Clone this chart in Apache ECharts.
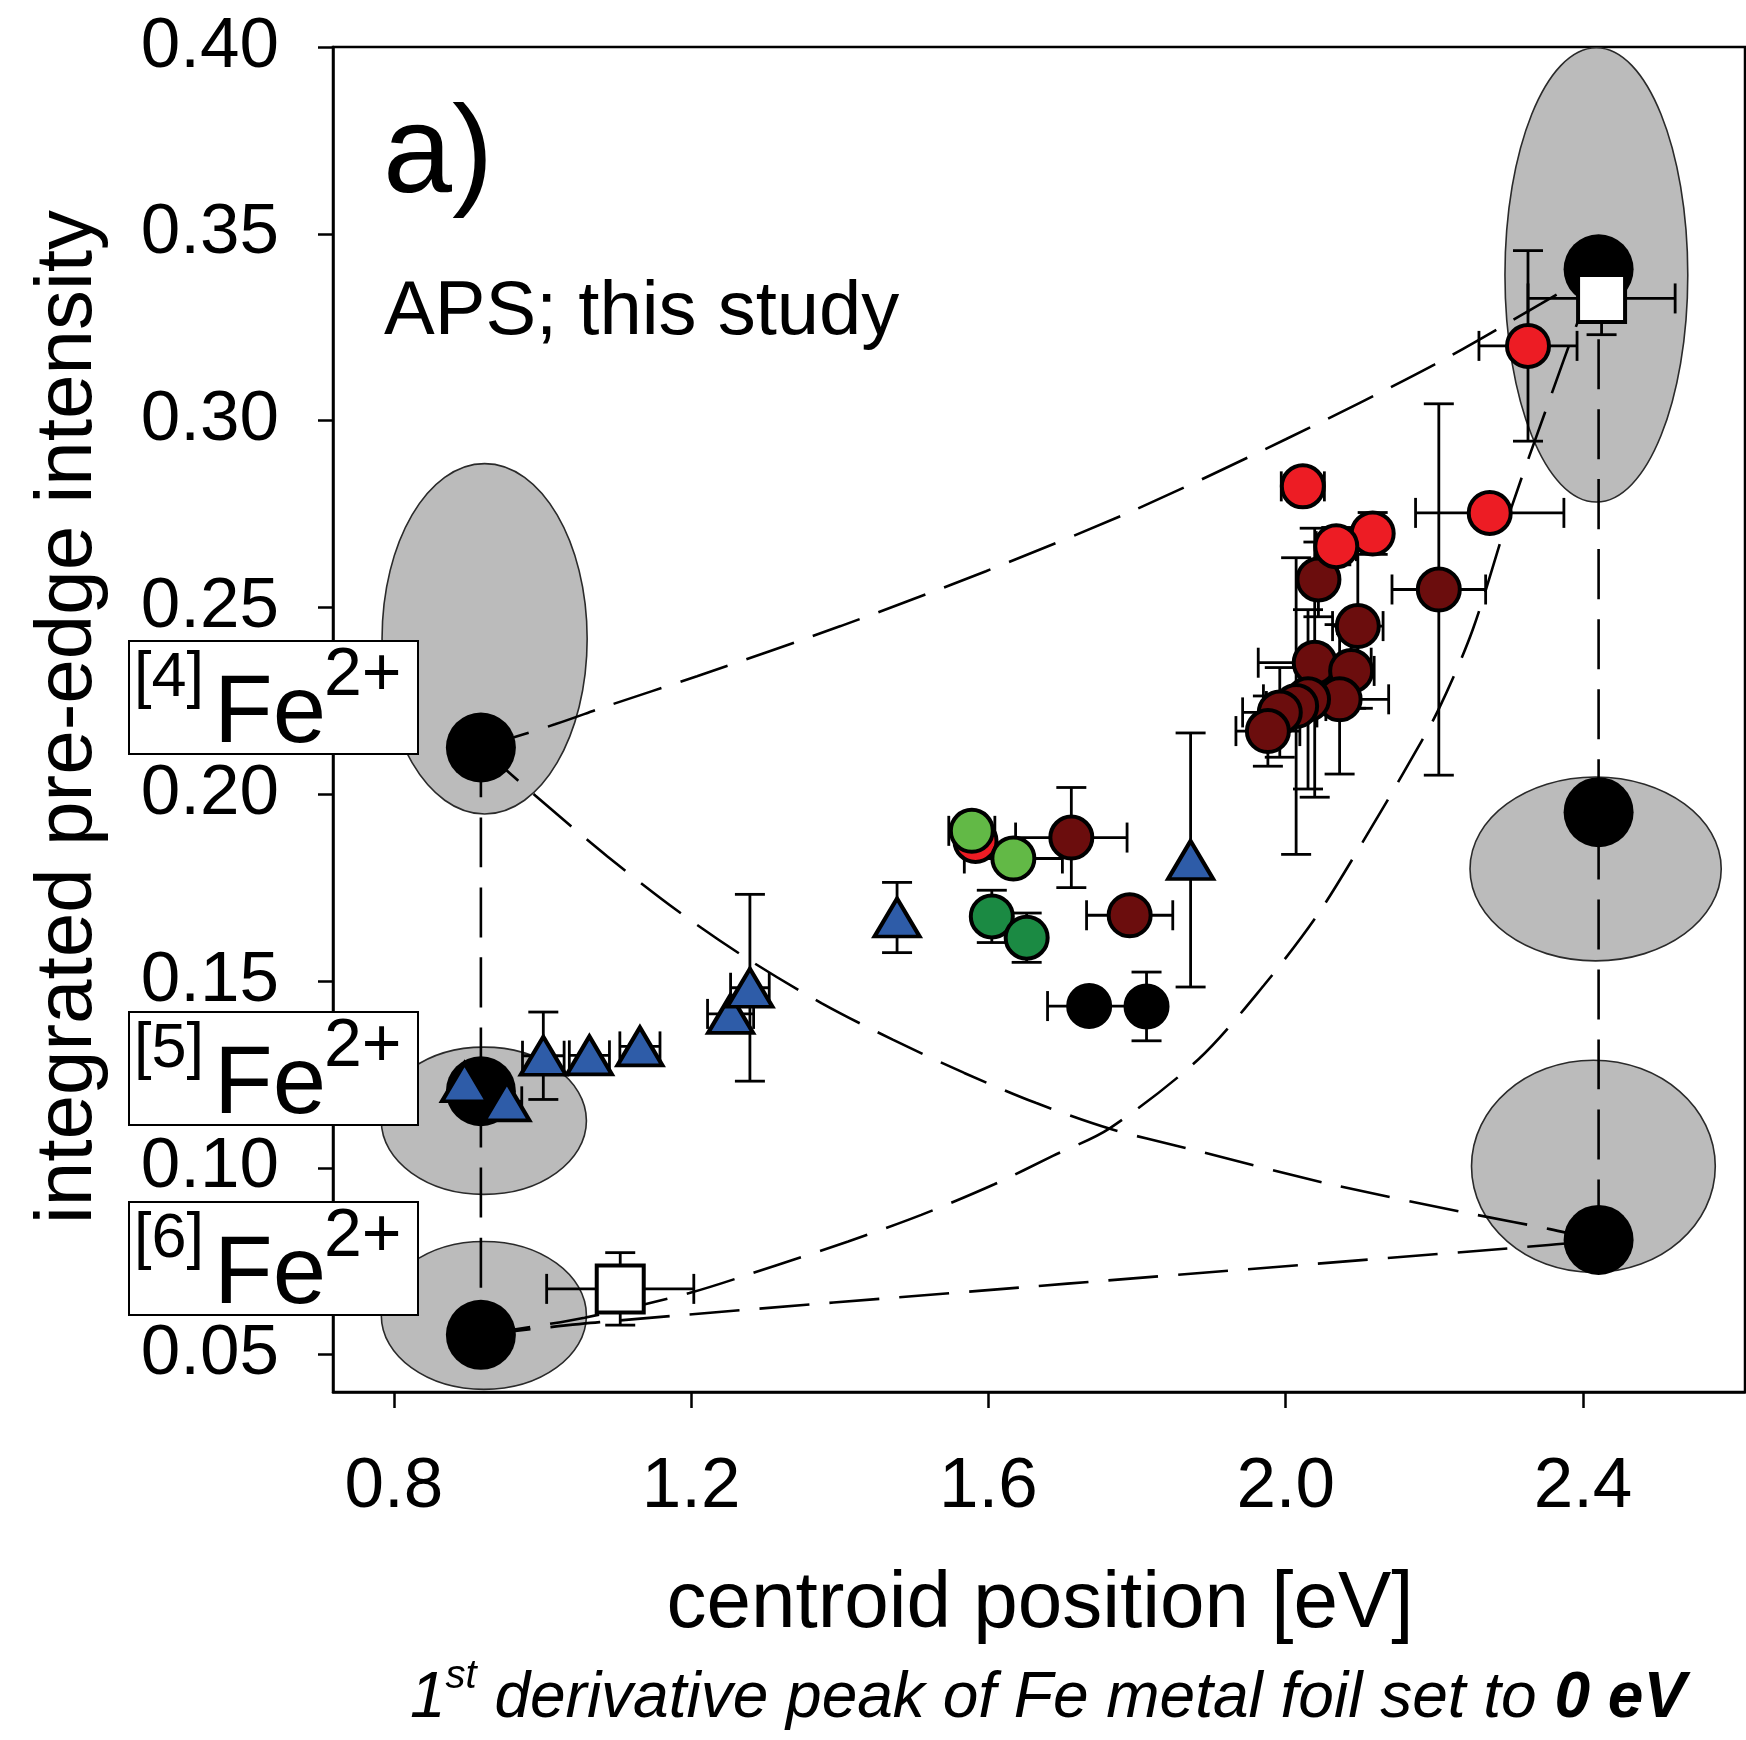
<!DOCTYPE html>
<html>
<head>
<meta charset="utf-8">
<script src="https://cdn.jsdelivr.net/npm/echarts@6/dist/echarts.min.js"></script>
<style>html,body{margin:0;padding:0;background:#fff}#c{width:1746px;height:1740px}</style>
</head>
<body>
<div id="c"></div>
<script>
// ---------- data ----------
const xTicks = [0.8, 1.2, 1.6, 2.0, 2.4];
const yTicks = [0.05, 0.10, 0.15, 0.20, 0.25, 0.30, 0.35, 0.40];

// end-member reference points [x, y]
const refPoints = [[0.917, 0.2125], [0.917, 0.1205], [0.917, 0.0553], [2.421, 0.3405], [2.421, 0.1952], [2.421, 0.0807]];
// grey fields [cx, cy, rx, ry]
const ellipses = [
  [0.922, 0.2416, 0.138, 0.0469],
  [0.921, 0.1126, 0.138, 0.0197],
  [0.921, 0.0605, 0.138, 0.0198],
  [2.418, 0.3390, 0.123, 0.0608],
  [2.417, 0.1800, 0.169, 0.0246],
  [2.414, 0.1004, 0.164, 0.0284]
];
// dashed mixing curves [x, y]
const curve4to4 = [[0.917, 0.2125], [1.0166, 0.2187], [1.0869, 0.2236], [1.2078, 0.2316], [1.401, 0.2450], [1.5966, 0.2597], [1.7923, 0.2757], [2.0, 0.2950], [2.2, 0.3150], [2.3437, 0.3313], [2.421, 0.3405]];
const curve6to4 = [[0.917, 0.0553], [1.0565, 0.0599], [1.1976, 0.0665], [1.3129, 0.0738], [1.4112, 0.0803], [1.5096, 0.0874], [1.6079, 0.0956], [1.6866, 0.1032], [1.7625, 0.1105], [1.8833, 0.1292], [1.9704, 0.1488], [2.042, 0.1675], [2.1033, 0.1871], [2.1597, 0.2062], [2.2057, 0.2227], [2.2517, 0.2441], [2.3012, 0.2753], [2.3550, 0.3056], [2.3925, 0.3262], [2.421, 0.3405]];
const curve4to6 = [[0.917, 0.2125], [0.9905, 0.1996], [1.0869, 0.1834], [1.1829, 0.1686], [1.2760, 0.1559], [1.3752, 0.1441], [1.4712, 0.1343], [1.5674, 0.1254], [1.6635, 0.1174], [1.7625, 0.1105], [1.8637, 0.1054], [2.0604, 0.0956], [2.2571, 0.0874], [2.3554, 0.0836], [2.421, 0.0807]];
const curve6to6 = [[0.917, 0.0553], [1.0768, 0.0587], [1.7063, 0.0690], [2.3457, 0.0792], [2.421, 0.0807]];
const vLineLeft = [[0.917, 0.2125], [0.917, 0.0553]];
const vLineRight = [[2.421, 0.3405], [2.421, 0.0807]];

// samples [x, y, xErr, yErr]
const redPts = [[2.326, 0.3200, 0.066, 0.0255], [2.023, 0.2824, 0.029, 0], [2.117, 0.2698, 0.020, 0.0056], [2.068, 0.2664, 0.027, 0.005], [2.2745, 0.2753, 0.0998, 0], [1.5826, 0.1875, 0.02, 0]];
const darkRedPts = [[2.044, 0.2575, 0, 0.010], [2.206, 0.2548, 0.063, 0.0497], [2.097, 0.2450, 0.034, 0.022], [2.039, 0.2352, 0.076, 0.036], [2.088, 0.2330, 0.031, 0.010], [2.0725, 0.2254, 0.066, 0.020], [2.030, 0.2254, 0.060, 0.024], [2.014, 0.2236, 0.040, 0.0397], [1.992, 0.2219, 0.050, 0.012], [1.976, 0.2169, 0.043, 0.0094], [1.7115, 0.1884, 0.075, 0.0134], [1.790, 0.1676, 0.058, 0.003]];
const lightGreenPts = [[1.5776, 0.1902, 0.031, 0], [1.6335, 0.1828, 0.066, 0]];
const darkGreenPts = [[1.6045, 0.1673, 0, 0.007], [1.6514, 0.1616, 0, 0.0066]];
const bluePts = [[0.895, 0.1229, 0, 0], [0.952, 0.1178, 0.02, 0], [1.001, 0.1300, 0.028, 0.0117], [1.063, 0.1301, 0.027, 0], [1.131, 0.1325, 0.027, 0], [1.253, 0.1412, 0.031, 0], [1.279, 0.1482, 0.026, 0.025], [1.477, 0.1670, 0, 0.0094], [1.872, 0.1824, 0, 0.034]];
const blackPts = [[1.7355, 0.1433, 0.056, 0], [1.8127, 0.1432, 0, 0.0092]];
const squarePts = [[1.1045, 0.0676, 0.099, 0.0097], [2.425, 0.3327, 0.099, 0.0097]];

// ---------- chart ----------
const FONT = '"Liberation Sans", Arial, Helvetica, sans-serif';
const K = 0.285; // middle-to-baseline factor
const chart = echarts.init(document.getElementById('c'), null, {renderer: 'canvas'});

const allErr = [].concat(darkRedPts, redPts, lightGreenPts, darkGreenPts, bluePts, blackPts, squarePts);
const xy = arr => arr.map(d => [d[0], d[1]]);

function dashed(data) {
  return {
    type: 'line', z: 2, data: data, smooth: 0.3, symbol: 'none', silent: true,
    lineStyle: {color: '#000', width: 2.6, type: [50, 20]}
  };
}
function pts(data, color, symbol, size) {
  return {
    type: 'scatter', z: 5, data: xy(data), symbol: symbol, symbolSize: size, silent: true,
    itemStyle: {color: color, borderColor: '#000', borderWidth: 4, opacity: 1}
  };
}

function txt(x, y, text, size) {
  return {type: 'text', z: 101, x: x, y: y, style: {text: text, fontSize: size, fontFamily: FONT, fill: '#000', textAlign: 'left', textVerticalAlign: 'middle'}};
}
function boxLabel(topY, n) {
  return {
    type: 'group', z: 100,
    children: [
      {type: 'rect', z: 100, shape: {x: 129, y: topY, width: 289, height: 113}, style: {fill: '#fff', stroke: '#000', lineWidth: 2}},
      txt(134, topY + 56 - K * 63, '[' + n + ']', 63),
      txt(214, topY + 102 - K * 96, 'Fe', 96),
      txt(324, topY + 55 - K * 68, '2+', 68)
    ]
  };
}

const option = {
  animation: false,
  backgroundColor: '#fff',
  grid: {left: 333, right: 1, top: 47, bottom: 348, show: true, borderColor: '#000', borderWidth: 2.5, backgroundColor: 'transparent'},
  xAxis: {
    type: 'value', min: 0.718, max: 2.618,
    axisLine: {show: true, onZero: false, lineStyle: {color: '#000', width: 2.5}},
    axisTick: {show: true, customValues: xTicks, length: 16, lineStyle: {color: '#000', width: 2.5}},
    axisLabel: {customValues: xTicks, formatter: v => v.toFixed(1), fontSize: 71, fontFamily: FONT, color: '#000', margin: 60},
    splitLine: {show: false}
  },
  yAxis: {
    type: 'value', min: 0.04, max: 0.40,
    axisLine: {show: true, onZero: false, lineStyle: {color: '#000', width: 2.5}},
    axisTick: {show: true, customValues: yTicks, length: 15, lineStyle: {color: '#000', width: 2.5}},
    axisLabel: {customValues: yTicks, formatter: v => v.toFixed(2), fontSize: 71, fontFamily: FONT, color: '#000', margin: 54},
    splitLine: {show: false}
  },
  series: [
    {
      type: 'custom', z: 1, silent: true, data: ellipses, encode: {x: 0, y: 1},
      renderItem: function (params, api) {
        const c = api.coord([api.value(0), api.value(1)]);
        const s = api.size([api.value(2), api.value(3)]);
        return {type: 'ellipse', shape: {cx: c[0], cy: c[1], rx: s[0], ry: s[1]}, style: {fill: '#BBBBBB', stroke: '#2a2a2a', lineWidth: 1.6}};
      }
    },
    dashed(curve4to4), dashed(curve6to4), dashed(curve4to6), dashed(curve6to6), dashed(vLineLeft), dashed(vLineRight),
    {type: 'scatter', z: 3, data: refPoints, symbol: 'circle', symbolSize: 70, silent: true, itemStyle: {color: '#000', opacity: 1}},
    {
      type: 'custom', z: 4, silent: true, data: allErr, encode: {x: 0, y: 1},
      renderItem: function (params, api) {
        const x = api.value(0), y = api.value(1), ex = api.value(2), ey = api.value(3);
        const cap = 15;
        const st = {stroke: '#000', lineWidth: 2.8};
        const ch = [];
        if (ex > 0) {
          const a = api.coord([x - ex, y]), b = api.coord([x + ex, y]);
          ch.push({type: 'line', shape: {x1: a[0], y1: a[1], x2: b[0], y2: b[1]}, style: st});
          ch.push({type: 'line', shape: {x1: a[0], y1: a[1] - cap, x2: a[0], y2: a[1] + cap}, style: st});
          ch.push({type: 'line', shape: {x1: b[0], y1: b[1] - cap, x2: b[0], y2: b[1] + cap}, style: st});
        }
        if (ey > 0) {
          const a = api.coord([x, y - ey]), b = api.coord([x, y + ey]);
          ch.push({type: 'line', shape: {x1: a[0], y1: a[1], x2: b[0], y2: b[1]}, style: st});
          ch.push({type: 'line', shape: {x1: a[0] - cap, y1: a[1], x2: a[0] + cap, y2: a[1]}, style: st});
          ch.push({type: 'line', shape: {x1: b[0] - cap, y1: b[1], x2: b[0] + cap, y2: b[1]}, style: st});
        }
        return {type: 'group', children: ch};
      }
    },
    pts(darkRedPts, '#6B0D0D', 'circle', 42),
    pts(redPts, '#ED1C24', 'circle', 42),
    pts(lightGreenPts, '#62B946', 'circle', 42),
    pts(darkGreenPts, '#1B8A43', 'circle', 42),
    pts(bluePts, '#2E5CA8', 'triangle', [45, 38]),
    pts(blackPts, '#000', 'circle', 42),
    pts(squarePts, '#fff', 'rect', 47)
  ],
  graphic: [
    {type: 'text', z: 100, x: 383, y: 193 - K * 124, style: {text: 'a)', fontSize: 124, fontFamily: FONT, fill: '#000', textAlign: 'left', textVerticalAlign: 'middle'}},
    {type: 'text', z: 100, x: 384, y: 335 - K * 76, style: {text: 'APS; this study', fontSize: 76, fontFamily: FONT, fill: '#000', textAlign: 'left', textVerticalAlign: 'middle'}},
    {type: 'text', z: 100, x: 92 - K * 80, y: 717, rotation: Math.PI / 2, style: {text: 'integrated pre-edge intensity', fontSize: 80, fontFamily: FONT, fill: '#000', textAlign: 'center', textVerticalAlign: 'middle'}},
    {type: 'text', z: 100, x: 1040, y: 1628 - K * 80, style: {text: 'centroid position [eV]', fontSize: 80, fontFamily: FONT, fill: '#000', textAlign: 'center', textVerticalAlign: 'middle'}},
    {type: 'text', z: 100, x: 1048, y: 1731, style: {
      text: '{n|1}{s|st}{n| derivative peak of Fe metal foil set to }{b|0 eV}',
      textAlign: 'center', textVerticalAlign: 'bottom', fill: '#000',
      rich: {
        n: {fontSize: 64, fontFamily: FONT, fontStyle: 'italic', lineHeight: 74, verticalAlign: 'bottom', fill: '#000'},
        s: {fontSize: 40, fontFamily: FONT, fontStyle: 'italic', lineHeight: 40, verticalAlign: 'top', fill: '#000'},
        b: {fontSize: 64, fontFamily: FONT, fontStyle: 'italic', fontWeight: 'bold', lineHeight: 74, verticalAlign: 'bottom', fill: '#000'}
      }
    }},
    boxLabel(641, 4),
    boxLabel(1012, 5),
    boxLabel(1202, 6)
  ]
};
chart.setOption(option);
</script>
</body>
</html>
